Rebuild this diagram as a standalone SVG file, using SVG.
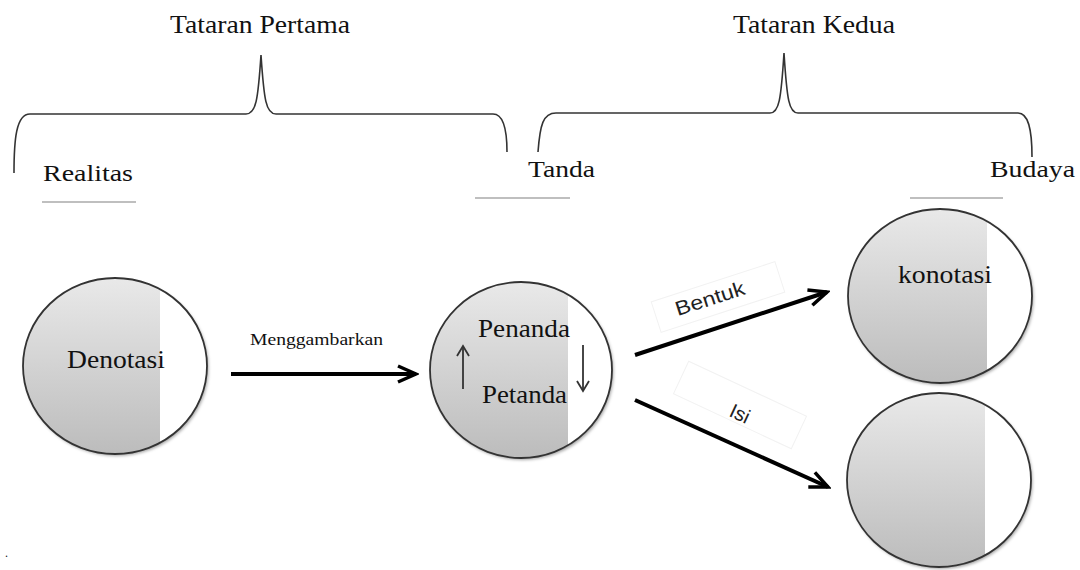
<svg xmlns="http://www.w3.org/2000/svg" width="1080" height="570" viewBox="0 0 1080 570">
<style>
.t{font-family:"Liberation Serif","Times New Roman",serif;fill:#111;}
.s{font-family:"Liberation Sans",Arial,sans-serif;fill:#222;}
.brace{fill:none;stroke:#333;stroke-width:1.6;}
.ul{stroke:#aaa;stroke-width:1.5;}
.ring{fill:none;stroke:#333;stroke-width:1.8;}
.bg{fill:#fff;filter:url(#sh);}
.gray{fill:url(#g);}
.conn{stroke:#000;stroke-width:4;fill:none;}
.thin{stroke:#333;stroke-width:1.8;fill:none;}
.lbox{fill:#fff;stroke:#f2f2f2;stroke-width:1;}
</style>
<defs>
<linearGradient id="g" x1="0" y1="0" x2="0" y2="1">
<stop offset="0" stop-color="#e9e9e9"/>
<stop offset="1" stop-color="#bcbcbc"/>
</linearGradient>
<filter id="sh" x="-10%" y="-10%" width="130%" height="130%">
<feDropShadow dx="1.5" dy="2" stdDeviation="1.5" flood-color="#000" flood-opacity="0.35"/>
</filter>
<marker id="ah" viewBox="0 0 24 20" markerWidth="24" markerHeight="20" refX="21" refY="10" orient="auto" markerUnits="userSpaceOnUse">
<path d="M3,2 L21,10 L3,18" fill="none" stroke="#000" stroke-width="3.5" stroke-linejoin="miter"/>
</marker>
<marker id="sa" viewBox="0 0 14 14" markerWidth="14" markerHeight="14" refX="12" refY="7" orient="auto" markerUnits="userSpaceOnUse">
<path d="M2,1 L12,7 L2,13" fill="none" stroke="#333" stroke-width="1.8"/>
</marker>
</defs>
<rect width="1080" height="570" fill="#fff"/>

<g id="braces">
<path class="brace" d="M14,173 C14,140 16,114 30,114 L246,114 C256,114 258,100 261,55 C264,100 266,114 276,114 L493,114 C503,114 507,130 507,152"/>
<path class="brace" d="M538,152 C540,125 543,113 556,113 L770,113 C779,113 781,100 784,53 C787,100 789,113 798,113 L1018,113 C1028,113 1032,128 1032,157"/>
</g>

<g id="headers">
<text class="t" x="170" y="33" font-size="25" textLength="180" lengthAdjust="spacingAndGlyphs">Tataran Pertama</text>
<text class="t" x="733" y="33" font-size="25" textLength="162" lengthAdjust="spacingAndGlyphs">Tataran Kedua</text>
<text class="t" x="43" y="181" font-size="24" textLength="90" lengthAdjust="spacingAndGlyphs">Realitas</text>
<line class="ul" x1="42" y1="202" x2="136" y2="202"/>
<text class="t" x="528" y="177" font-size="24" textLength="67" lengthAdjust="spacingAndGlyphs">Tanda</text>
<line class="ul" x1="475" y1="198" x2="570" y2="198"/>
<text class="t" x="990" y="177" font-size="24" textLength="85" lengthAdjust="spacingAndGlyphs">Budaya</text>
<line class="ul" x1="910" y1="198" x2="1003" y2="198"/>
</g>

<g id="node-denotasi">
<ellipse class="bg" cx="115" cy="366" rx="92" ry="88"/>
<path class="gray" d="M160,289.2 A92,88 0 1 0 160,442.8 Z"/>
<ellipse class="ring" cx="115" cy="366" rx="92" ry="88"/>
<text class="t" x="67" y="368" font-size="25" textLength="98" lengthAdjust="spacingAndGlyphs">Denotasi</text>
</g>

<g id="node-tanda">
<ellipse class="bg" cx="521" cy="370" rx="91" ry="88"/>
<path class="gray" d="M568,294.6 A91,88 0 1 0 568,445.4 Z"/>
<ellipse class="ring" cx="521" cy="370" rx="91" ry="88"/>
<text class="t" x="478" y="337" font-size="25" textLength="92" lengthAdjust="spacingAndGlyphs">Penanda</text>
<text class="t" x="482" y="403" font-size="25" textLength="85" lengthAdjust="spacingAndGlyphs">Petanda</text>
<line class="thin" x1="463" y1="389" x2="463" y2="346" marker-end="url(#sa)"/>
<line class="thin" x1="583" y1="345" x2="583" y2="391" marker-end="url(#sa)"/>
</g>

<g id="node-konotasi">
<ellipse class="bg" cx="940" cy="296" rx="92" ry="87"/>
<path class="gray" d="M987,221.2 A92,87 0 1 0 987,370.8 Z"/>
<ellipse class="ring" cx="940" cy="296" rx="92" ry="87"/>
<text class="t" x="898" y="283" font-size="25" textLength="94" lengthAdjust="spacingAndGlyphs">konotasi</text>
</g>

<g id="node-isi">
<ellipse class="bg" cx="939" cy="480" rx="92" ry="87"/>
<path class="gray" d="M985,404.7 A92,87 0 1 0 985,555.3 Z"/>
<ellipse class="ring" cx="939" cy="480" rx="92" ry="87"/>
</g>

<g id="connectors">
<line class="conn" x1="231" y1="374" x2="416" y2="374" marker-end="url(#ah)"/>
<text class="t" x="250" y="345" font-size="16" textLength="133" lengthAdjust="spacingAndGlyphs">Menggambarkan</text>
<rect class="lbox" x="-65" y="-16" width="130" height="32" transform="translate(718,297) rotate(-18)"/>
<text class="s" font-size="20" text-anchor="middle" transform="translate(712,305) rotate(-18)" textLength="72" lengthAdjust="spacingAndGlyphs">Bentuk</text>
<line class="conn" x1="635" y1="355" x2="827" y2="292" marker-end="url(#ah)"/>
<rect class="lbox" x="-65" y="-18" width="130" height="36" transform="translate(740,405) rotate(25)"/>
<text class="s" font-size="20" text-anchor="middle" transform="translate(737,420) rotate(25)">Isi</text>
<line class="conn" x1="635" y1="400" x2="828" y2="487" marker-end="url(#ah)"/>
</g>

<text class="t" x="5" y="557" font-size="12" fill="#888">.</text>
</svg>
